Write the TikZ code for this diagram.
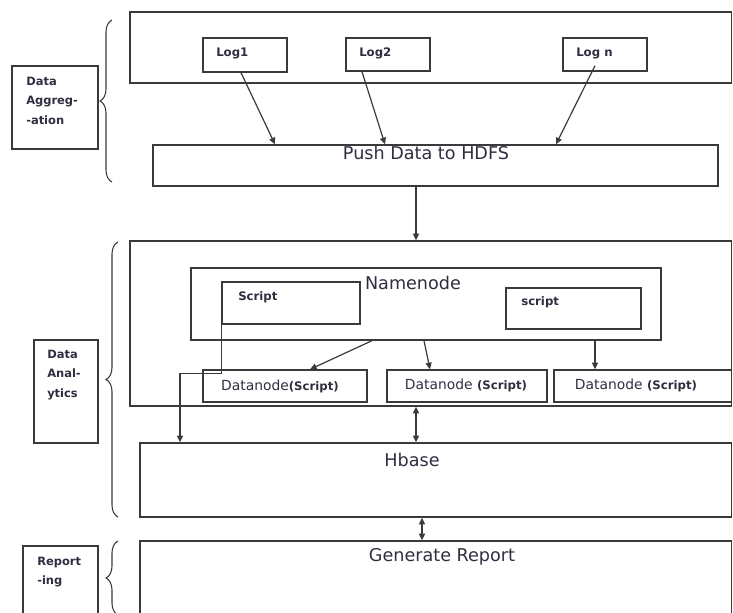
\documentclass[tikz,border=0pt]{standalone}
\usepackage{fontspec}
\setmainfont{DejaVu Sans}
\newfontfamily\lblfont{DejaVu Sans}[BoldFont={DejaVu Sans Bold}]
\usetikzlibrary{fit,arrows.meta,decorations.pathreplacing}
\definecolor{ln}{HTML}{3A3A3A}
\definecolor{tx}{HTML}{2E2E40}
\tikzset{
  box/.style={draw=ln, line width=1pt, inner sep=0pt},
  arr/.style={draw=ln, line width=0.9pt, -{Triangle[length=5pt,width=4.5pt]}},
  darr/.style={draw=ln, line width=0.9pt, {Triangle[length=5pt,width=4.5pt]}-{Triangle[length=5pt,width=4.5pt]}},
  brc/.style={draw=ln, line width=0.8pt, decorate, decoration={brace, amplitude=9pt}},
  bigt/.style={text=tx, font=\fontsize{13.2}{15}\selectfont, inner sep=0pt},
  dnt/.style={text=tx, font=\fontsize{10.4}{12}\selectfont, inner sep=0pt},
  smt/.style={text=tx, font=\lblfont\bfseries\fontsize{8.8}{10}\selectfont, inner sep=0pt, anchor=west},
  lab/.style={text=tx, font=\lblfont\bfseries\fontsize{8.6}{14.5}\selectfont, inner sep=0pt, align=left, anchor=north west},
}
\newcommand{\scr}{{\lblfont\bfseries\fontsize{8.8}{10}\selectfont(Script)}}
\begin{document}
\begin{tikzpicture}[x=0.75pt,y=-0.75pt]
\useasboundingbox (0,0) rectangle (733,612);
% Data aggregation
\node[box, fit={(130,12)(731.5,83)}] (agg) {};
\node[box, fit={(203,38)(287,72)}] (log1) {};
\node[box, fit={(346,38)(430,71)}] (log2) {};
\node[box, fit={(563,38)(647,71)}] (logn) {};
\node[smt] (t1) at (216,53) {Log1};
\node[smt] (t2) at (359,53) {Log2};
\node[smt] (tn) at (576,53) {Log n};
\node[box, fit={(153,145)(718,186)}] (push) {};
\node[bigt] (tpush) at (426,153) {Push Data to HDFS};
\draw[arr] (log1.south -| 241,0) -- (push.north -| 275,0);
\draw[arr] (log2.south -| 362,0) -- (push.north -| 385,0);
\draw[arr] (logn.south -| 595,0) ++(0,-6) -- (push.north -| 556,0);
% Data analytics
\node[box, fit={(130,241)(731.5,406)}] (ana) {};
\draw[arr] (push.south -| 416,0) -- (ana.north -| 416,0);
\node[box, fit={(191,268)(661,340)}] (name) {};
\node[bigt] (tname) at (413,283) {Namenode};
\node[box, fit={(222,282)(360,324)}] (scl) {};
\node[smt] (tscl) at (238,297) {Script};
\node[box, fit={(506,288)(641,329)}] (scr) {};
\node[smt] (tscr) at (521,302) {script};
\node[box, fit={(203,370)(367,402)}] (dn1) {};
\node[box, fit={(387,370)(547,402)}] (dn2) {};
\node[box, fit={(554,370)(731.5,402)}] (dn3) {};
\node[dnt] (tdn1) at (280,386) {Datanode\scr};
\node[dnt] (tdn2) at (466,385) {Datanode \scr};
\node[dnt] (tdn3) at (636,385) {Datanode \scr};
\draw[arr] (name.south -| 372,0) -- (dn1.north -| 310,0);
\draw[arr] (name.south -| 424,0) -- (dn2.north -| 430,0);
\draw[arr] (name.south -| 595,0) -- (dn3.north -| 595,0);
% Hbase
\node[box, fit={(140,443)(731.5,517)}] (hbase) {};
\node[bigt] (thb) at (412,460) {Hbase};
\draw[arr] (scl.south west) -- ++(0,49) -| (hbase.north -| 180,0);
\draw[darr] (ana.south -| 416,0) -- (hbase.north -| 416,0);
% Report
\node[box, fit={(140,541)(731.5,620)}] (rep) {};
\node[bigt] (trep) at (442,557) {Generate Report};
\draw[darr] (hbase.south -| 422,0) -- (rep.north -| 422,0);
% labels
\node[box, fit={(12,66)(98,149)}] (lagg) {};
\node[lab] (tlagg) at (26,77) {Data\\Aggreg-\\-ation};
\node[box, fit={(34,340)(98,443)}] (lana) {};
\node[lab] (tlana) at (47,350) {Data\\Anal-\\ytics};
\node[box, fit={(23,546)(98,620)}] (lrep) {};
\node[lab] (tlrep) at (37,557) {Report\\-ing};
% braces
\draw[brc] (112,182) -- (112,20);
\draw[brc] (118,517) -- (118,242);
\draw[brc] (118,615) -- (118,541);
\end{tikzpicture}
\end{document}
